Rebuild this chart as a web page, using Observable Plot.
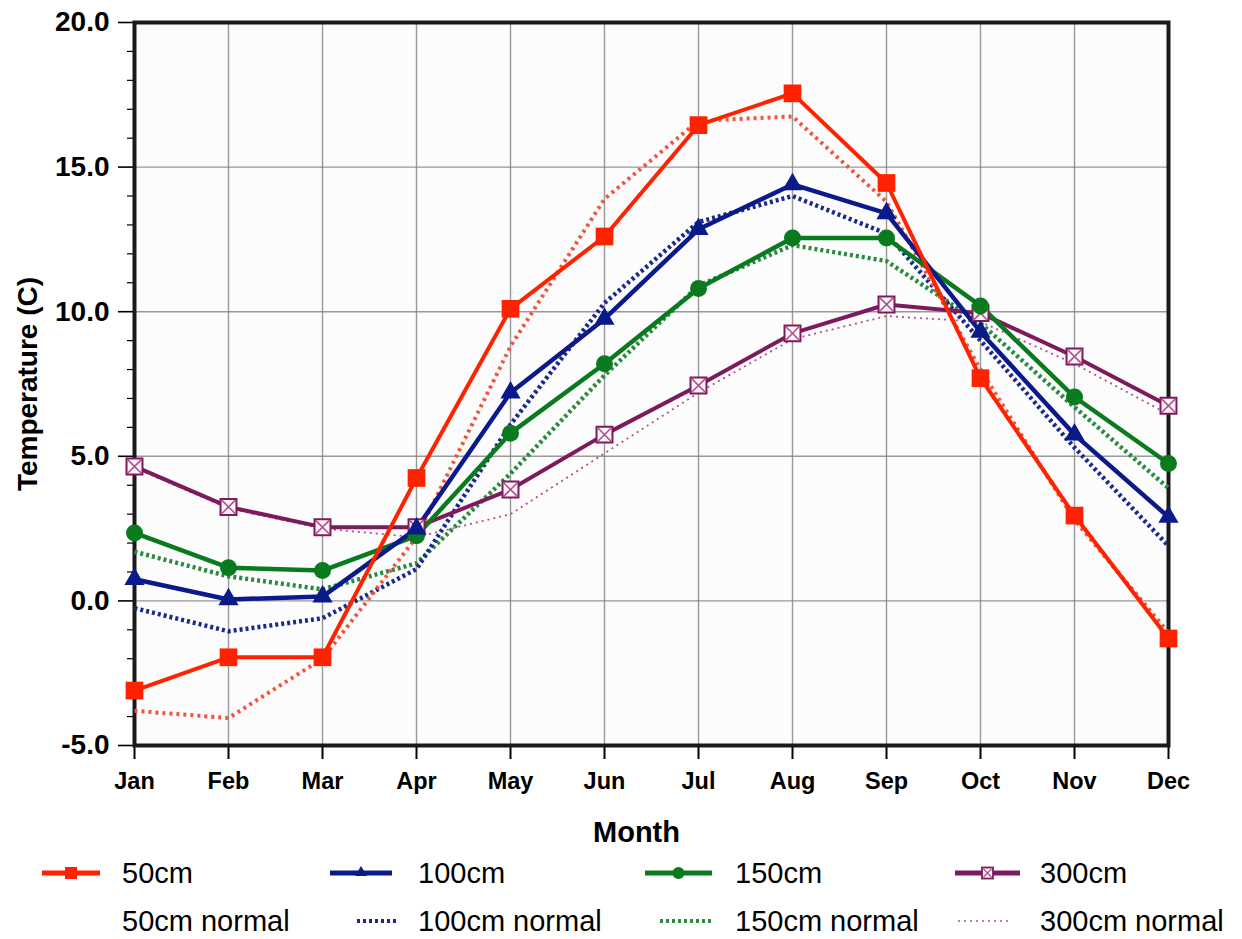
<!DOCTYPE html>
<html>
<head>
<meta charset="utf-8">
<script src="https://cdn.jsdelivr.net/npm/d3@7"></script>
<script src="https://cdn.jsdelivr.net/npm/@observablehq/plot@0.6"></script>
<style>
  html, body { margin: 0; padding: 0; background: #fff; }
  #wrap { position: relative; width: 1242px; height: 939px; font-family: "Liberation Sans", Arial, sans-serif; }
  #chart { position: absolute; left: 0; top: 0; }
  .lg-text { position: absolute; font-size: 29px; line-height: 34px; height: 34px; color: #000; white-space: nowrap; }
  .lg-sw { position: absolute; }
</style>
</head>
<body>
<div id="wrap"><div id="chart"></div></div>
<script>
// ---- data ----
const months = ["Jan","Feb","Mar","Apr","May","Jun","Jul","Aug","Sep","Oct","Nov","Dec"];
const t50  = [-3.1, -1.95, -1.95, 4.25, 10.1, 12.6, 16.45, 17.55, 14.45, 7.7, 2.95, -1.3];
const t100 = [0.75, 0.05, 0.15, 2.5, 7.2, 9.75, 12.85, 14.4, 13.4, 9.3, 5.75, 2.9];
const t150 = [2.35, 1.15, 1.05, 2.25, 5.8, 8.2, 10.8, 12.55, 12.55, 10.2, 7.05, 4.75];
const t300 = [4.65, 3.25, 2.55, 2.55, 3.85, 5.75, 7.45, 9.25, 10.25, 9.95, 8.45, 6.75];
const n50  = [-3.8, -4.05, -2.0, 2.2, 8.8, 13.9, 16.6, 16.75, 13.8, 8.0, 2.8, -1.1];
const n100 = [-0.25, -1.05, -0.6, 1.1, 6.1, 10.3, 13.1, 14.0, 12.7, 9.0, 5.3, 1.9];
const n150 = [1.7, 0.85, 0.4, 1.3, 4.4, 7.8, 10.9, 12.3, 11.75, 9.6, 6.7, 3.9];
const n300 = [4.6, 3.2, 2.5, 2.2, 3.0, 5.1, 7.2, 9.05, 9.85, 9.65, 8.2, 6.45];
const yTicks = [-5, 0, 5, 10, 15, 20];
const yMinorTicks = [-4,-3,-2,-1,1,2,3,4,6,7,8,9,11,12,13,14,16,17,18,19];
const seriesNames = ["50cm","100cm","150cm","300cm"];
const normalNames = ["50cm normal","100cm normal","150cm normal","300cm normal"];

// ---- styles ----
const solidStyle = {
  "50cm":  {color: "#ff2200", width: 4},
  "100cm": {color: "#0b1a8a", width: 4.5},
  "150cm": {color: "#0a7a1e", width: 4.5},
  "300cm": {color: "#7d1a5e", width: 4}
};
const normalStyle = {
  "50cm normal":  {color: "#f2553f", width: 4, dash: "3,4"},
  "100cm normal": {color: "#1a2a8c", width: 4.5, dash: "3,3"},
  "150cm normal": {color: "#2a8a40", width: 4.5, dash: "3,3"},
  "300cm normal": {color: "#b0508a", width: 1.8, dash: "2,4"}
};

const toRows = (name, vals) => vals.map((v, i) => ({series: name, month: months[i], temp: v}));
const solids = [t50, t100, t150, t300].map((v, i) => toRows(seriesNames[i], v));
const normals = [n50, n100, n150, n300].map((v, i) => toRows(normalNames[i], v));

const fmt = d => d.toFixed(1);
const font = "Liberation Sans, Arial, sans-serif";

const marks = [
  Plot.frame({fill: "#fcfcfc"}),
  Plot.gridX({stroke: "#808080", strokeOpacity: 0.8, strokeWidth: 1.4}),
  Plot.gridY(yTicks, {stroke: "#808080", strokeOpacity: 0.8, strokeWidth: 1.4}),
  Plot.axisY(yMinorTicks, {tickSize: 7, tickFormat: () => "", label: null, strokeWidth: 1.2}),
  Plot.axisY(yTicks, {tickSize: 16, tickPadding: 9, tickFormat: fmt, fontSize: 28, fontWeight: "bold", label: null, strokeWidth: 1.6}),
  Plot.axisX({tickSize: 14, tickPadding: 13, fontSize: 23.5, fontWeight: "bold", label: null, strokeWidth: 2}),
  Plot.frame({stroke: "#1a1a1a", strokeWidth: 4}),
  Plot.text(["Temperature (C)"], {frameAnchor: "left", textAnchor: "middle", lineAnchor: "middle", rotate: -90, dx: -106, fontSize: 28, fontWeight: "bold"}),
  Plot.text(["Month"], {frameAnchor: "bottom", textAnchor: "middle", lineAnchor: "middle", dx: -15, dy: 87, fontSize: 29, fontWeight: "bold"})
];

// dotted normals
[3, 2, 1, 0].forEach(i => {
  const s = normalStyle[normalNames[i]];
  marks.push(Plot.line(normals[i], {x: "month", y: "temp", stroke: s.color, strokeWidth: s.width, strokeDasharray: s.dash, strokeLinecap: "butt"}));
});
// solid lines
[3, 2, 1, 0].forEach(i => {
  const s = solidStyle[seriesNames[i]];
  marks.push(Plot.line(solids[i], {x: "month", y: "temp", stroke: s.color, strokeWidth: s.width}));
});
// markers
marks.push(Plot.dot(solids[3], {x: "month", y: "temp", symbol: "square", r: 9, fill: "#fff6fa", stroke: solidStyle["300cm"].color, strokeWidth: 2}));
marks.push(Plot.dot(solids[3], {x: "month", y: "temp", symbol: "times", r: 6.5, stroke: "#b0508a", strokeWidth: 1.6}));
marks.push(Plot.dot(solids[2], {x: "month", y: "temp", symbol: "circle", r: 8.5, fill: solidStyle["150cm"].color}));
marks.push(Plot.dot(solids[1], {x: "month", y: "temp", symbol: "triangle", r: 7.5, fill: solidStyle["100cm"].color}));
marks.push(Plot.dot(solids[0], {x: "month", y: "temp", symbol: "square", r: 10, fill: solidStyle["50cm"].color}));

const chart = Plot.plot({
  width: 1242,
  height: 850,
  marginLeft: 134,
  marginRight: 74,
  marginTop: 22,
  marginBottom: 105,
  x: {type: "point", domain: months, padding: 0},
  y: {domain: [-5, 20]},
  style: {fontFamily: font, color: "#000", background: "transparent", overflow: "visible"},
  marks
});
document.getElementById("chart").appendChild(chart);

// ---- legend (HTML below the plot area) ----
const wrap = document.getElementById("wrap");
const legendRows = [
  {y: 873, items: [
    {name: "50cm", sx: 42, sw: 58, tx: 122, kind: "solid"},
    {name: "100cm", sx: 330, sw: 62, tx: 418, kind: "solid"},
    {name: "150cm", sx: 645, sw: 67, tx: 735, kind: "solid"},
    {name: "300cm", sx: 955, sw: 65, tx: 1040, kind: "solid"}
  ]},
  {y: 921, items: [
    {name: "50cm normal", sx: null, sw: 0, tx: 122, kind: "normal"},
    {name: "100cm normal", sx: 357, sw: 41, tx: 418, kind: "normal"},
    {name: "150cm normal", sx: 660, sw: 52, tx: 735, kind: "normal"},
    {name: "300cm normal", sx: 958, sw: 52, tx: 1040, kind: "normal"}
  ]}
];
const NS = "http://www.w3.org/2000/svg";
legendRows.forEach(row => {
  row.items.forEach(it => {
    const t = document.createElement("div");
    t.className = "lg-text";
    t.style.left = it.tx + "px";
    t.style.top = (row.y - 17) + "px";
    t.textContent = it.name;
    wrap.appendChild(t);
    if (it.sx == null) return;
    const svg = document.createElementNS(NS, "svg");
    svg.setAttribute("class", "lg-sw");
    svg.setAttribute("width", it.sw);
    svg.setAttribute("height", 24);
    svg.style.left = it.sx + "px";
    svg.style.top = (row.y - 12) + "px";
    const line = document.createElementNS(NS, "line");
    line.setAttribute("x1", 0); line.setAttribute("x2", it.sw);
    line.setAttribute("y1", 12); line.setAttribute("y2", 12);
    if (it.kind === "solid") {
      const s = solidStyle[it.name];
      line.setAttribute("stroke", s.color);
      line.setAttribute("stroke-width", 5);
      svg.appendChild(line);
      const cx = it.sw / 2;
      if (it.name === "50cm") {
        const m = document.createElementNS(NS, "rect");
        m.setAttribute("x", cx - 6); m.setAttribute("y", 6); m.setAttribute("width", 12); m.setAttribute("height", 12);
        m.setAttribute("fill", s.color);
        svg.appendChild(m);
      } else if (it.name === "100cm") {
        const m = document.createElementNS(NS, "path");
        m.setAttribute("d", `M${cx},5L${cx+6},15L${cx-6},15Z`);
        m.setAttribute("fill", s.color);
        svg.appendChild(m);
      } else if (it.name === "150cm") {
        const m = document.createElementNS(NS, "circle");
        m.setAttribute("cx", cx); m.setAttribute("cy", 12); m.setAttribute("r", 6);
        m.setAttribute("fill", s.color);
        svg.appendChild(m);
      } else {
        const m = document.createElementNS(NS, "rect");
        m.setAttribute("x", cx - 5.5); m.setAttribute("y", 6.5); m.setAttribute("width", 11); m.setAttribute("height", 11);
        m.setAttribute("fill", "#fff6fa"); m.setAttribute("stroke", s.color); m.setAttribute("stroke-width", 1.8);
        svg.appendChild(m);
        const x = document.createElementNS(NS, "path");
        x.setAttribute("d", `M${cx-4},8L${cx+4},16M${cx+4},8L${cx-4},16`);
        x.setAttribute("stroke", "#b0508a"); x.setAttribute("stroke-width", 1.3);
        svg.appendChild(x);
      }
    } else {
      const s = normalStyle[it.name];
      line.setAttribute("stroke", s.color);
      line.setAttribute("stroke-width", it.name === "300cm normal" ? 1.5 : 4);
      line.setAttribute("stroke-dasharray", s.dash);
      svg.appendChild(line);
    }
    wrap.appendChild(svg);
  });
});
</script>
</body>
</html>
